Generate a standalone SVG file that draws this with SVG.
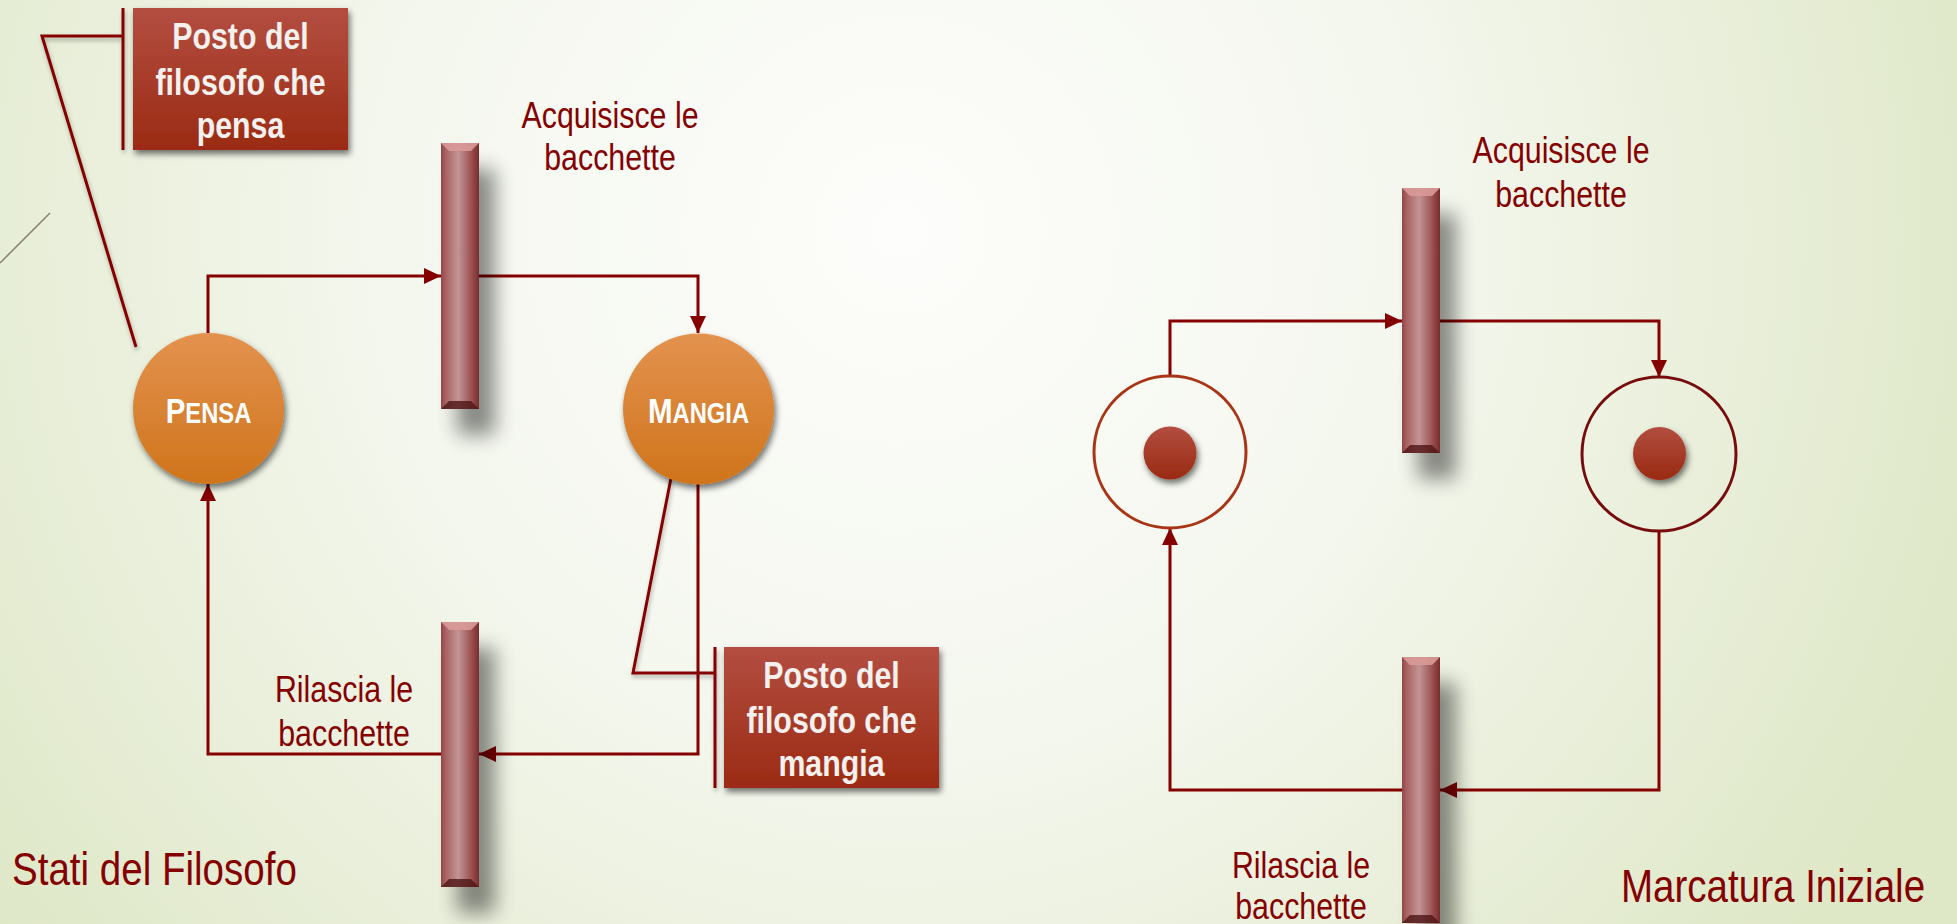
<svg xmlns="http://www.w3.org/2000/svg" width="1957" height="924" viewBox="0 0 1957 924">
<defs>
<radialGradient id="bg" cx="900" cy="230" r="1150" gradientUnits="userSpaceOnUse">
<stop offset="0" stop-color="#fdfdfb"/>
<stop offset="0.45" stop-color="#f4f7ee"/>
<stop offset="1" stop-color="#dee7c6"/>
</radialGradient>
<linearGradient id="boxg" x1="0" y1="0" x2="0" y2="1">
<stop offset="0" stop-color="#b34e41"/>
<stop offset="1" stop-color="#9b2b14"/>
</linearGradient>
<linearGradient id="circg" x1="0" y1="0" x2="0" y2="1">
<stop offset="0" stop-color="#e3924f"/>
<stop offset="1" stop-color="#cf741b"/>
</linearGradient>
<linearGradient id="dotg" x1="0" y1="0" x2="0" y2="1">
<stop offset="0" stop-color="#b24e40"/>
<stop offset="1" stop-color="#9a2a12"/>
</linearGradient>
<linearGradient id="barg" x1="0" y1="0" x2="1" y2="0">
<stop offset="0" stop-color="#8f4646"/>
<stop offset="0.12" stop-color="#a86262"/>
<stop offset="0.45" stop-color="#c39494"/>
<stop offset="0.75" stop-color="#a25a5a"/>
<stop offset="1" stop-color="#7a2b2b"/>
</linearGradient>
<filter id="barsh" x="-100%" y="-20%" width="400%" height="160%">
<feGaussianBlur in="SourceAlpha" stdDeviation="10"/>
<feOffset dx="16" dy="26" result="b"/>
<feComponentTransfer><feFuncA type="linear" slope="0.45"/></feComponentTransfer>
<feMerge><feMergeNode/><feMergeNode in="SourceGraphic"/></feMerge>
</filter>
<filter id="sh" x="-20%" y="-20%" width="150%" height="150%">
<feDropShadow dx="2" dy="4" stdDeviation="3" flood-color="#000" flood-opacity="0.55"/>
</filter>
<filter id="lsh" x="-20%" y="-20%" width="150%" height="150%">
<feDropShadow dx="1" dy="3" stdDeviation="2" flood-color="#000" flood-opacity="0.3"/>
</filter>
<marker id="arr" markerWidth="17" markerHeight="16" refX="17" refY="8" orient="auto" markerUnits="userSpaceOnUse">
<path d="M0,0 L17,8 L0,16 z" fill="#850000"/>
</marker>
<style>
.lbl{font-family:"Liberation Sans",Arial,sans-serif;font-size:37px;fill:#850000;text-anchor:middle}
.ttl{font-family:"Liberation Sans",Arial,sans-serif;font-size:47px;fill:#850000}
.btx{font-family:"Liberation Sans",Arial,sans-serif;font-size:37px;font-weight:bold;fill:#f3f0ee;text-anchor:middle}
.ctx{font-family:"Liberation Sans",Arial,sans-serif;font-size:36px;font-weight:bold;fill:#ffffff;text-anchor:middle}
.sc{font-size:29px}
.con{fill:none;stroke:#850000;stroke-width:3;marker-end:url(#arr)}
.cal{fill:none;stroke:#850000;stroke-width:3}
.box{fill:url(#boxg)}
.bar{fill:url(#barg)}
.bvt{fill:#d99a98;opacity:0.9}
.bvb{fill:#4e1515;opacity:0.8}
</style>
</defs>
<rect x="0" y="0" width="1957" height="924" fill="url(#bg)"/>
<line x1="0" y1="263" x2="50" y2="213" stroke="#8a8070" stroke-width="1.5"/>

<g id="connectors">
<path class="con" d="M208,333 V276 H441"/>
<path class="con" d="M479,276 H698 V333"/>
<path class="con" d="M698,484 V754 H479"/>
<path class="con" d="M441,754 H208 V484"/>
<path class="con" d="M1170,375 V321 H1402"/>
<path class="con" d="M1440,321 H1659 V377"/>
<path class="con" d="M1659,531 V790 H1440"/>
<path class="con" d="M1402,790 H1170 V528"/>
</g>

<g id="callout-pensa" filter="url(#lsh)">
<polyline class="cal" points="123,36 42,36 136,347"/>
<line class="cal" x1="123" y1="8" x2="123" y2="150"/>
</g>
<g id="box-pensa">
<rect class="box" x="133" y="8" width="215" height="142" filter="url(#sh)"/>
<text class="btx" transform="matrix(0.82 0 0 1 240.5 0)" x="0" y="49">Posto del</text>
<text class="btx" transform="matrix(0.82 0 0 1 240.5 0)" x="0" y="95">filosofo che</text>
<text class="btx" transform="matrix(0.82 0 0 1 240.5 0)" x="0" y="138">pensa</text>
</g>

<g id="callout-mangia" filter="url(#lsh)">
<polyline class="cal" points="715,673 633,673 671,478"/>
<line class="cal" x1="715" y1="647" x2="715" y2="788"/>
</g>
<g id="box-mangia">
<rect class="box" x="724" y="647" width="215" height="141" filter="url(#sh)"/>
<text class="btx" transform="matrix(0.82 0 0 1 831.5 0)" x="0" y="688">Posto del</text>
<text class="btx" transform="matrix(0.82 0 0 1 831.5 0)" x="0" y="733">filosofo che</text>
<text class="btx" transform="matrix(0.82 0 0 1 831.5 0)" x="0" y="776">mangia</text>
</g>

<g id="place-pensa">
<circle cx="208.5" cy="408.5" r="75.5" fill="url(#circg)" filter="url(#sh)"/>
<text class="ctx" transform="matrix(0.82 0 0 1 208.5 0)" x="0" y="423">P<tspan class="sc">ENSA</tspan></text>
</g>
<g id="place-mangia">
<circle cx="698.5" cy="409" r="75.5" fill="url(#circg)" filter="url(#sh)"/>
<text class="ctx" transform="matrix(0.82 0 0 1 698.5 0)" x="0" y="423">M<tspan class="sc">ANGIA</tspan></text>
</g>

<g id="trans-acquisisce-1">
<g filter="url(#barsh)">
<rect class="bar" x="441" y="143" width="38" height="266"/>
</g>
<polygon class="bvt" points="441,143 479,143 471,151 449,151"/>
<polygon class="bvb" points="441,409 479,409 471,401 449,401"/>
<text class="lbl" transform="matrix(0.82 0 0 1 610 0)" x="0" y="128">Acquisisce le</text>
<text class="lbl" transform="matrix(0.82 0 0 1 610 0)" x="0" y="170">bacchette</text>
</g>
<g id="trans-rilascia-1">
<g filter="url(#barsh)">
<rect class="bar" x="441" y="622" width="38" height="265"/>
</g>
<polygon class="bvt" points="441,622 479,622 471,630 449,630"/>
<polygon class="bvb" points="441,887 479,887 471,879 449,879"/>
<text class="lbl" transform="matrix(0.82 0 0 1 344 0)" x="0" y="702">Rilascia le</text>
<text class="lbl" transform="matrix(0.82 0 0 1 344 0)" x="0" y="746">bacchette</text>
</g>

<g id="place-left-marked">
<circle cx="1170" cy="452" r="76" fill="none" stroke="#a83516" stroke-width="3"/>
<circle cx="1170" cy="453" r="26.5" fill="url(#dotg)" filter="url(#sh)"/>
</g>
<g id="place-right-marked">
<circle cx="1659" cy="454" r="77" fill="none" stroke="#760c0c" stroke-width="3"/>
<circle cx="1659.5" cy="453.5" r="26.5" fill="url(#dotg)" filter="url(#sh)"/>
</g>

<g id="trans-acquisisce-2">
<g filter="url(#barsh)">
<rect class="bar" x="1402" y="188" width="38" height="265"/>
</g>
<polygon class="bvt" points="1402,188 1440,188 1432,196 1410,196"/>
<polygon class="bvb" points="1402,453 1440,453 1432,445 1410,445"/>
<text class="lbl" transform="matrix(0.82 0 0 1 1561 0)" x="0" y="163">Acquisisce le</text>
<text class="lbl" transform="matrix(0.82 0 0 1 1561 0)" x="0" y="207">bacchette</text>
</g>
<g id="trans-rilascia-2">
<g filter="url(#barsh)">
<rect class="bar" x="1402" y="657" width="38" height="266"/>
</g>
<polygon class="bvt" points="1402,657 1440,657 1432,665 1410,665"/>
<polygon class="bvb" points="1402,923 1440,923 1432,915 1410,915"/>
<text class="lbl" transform="matrix(0.82 0 0 1 1301 0)" x="0" y="878">Rilascia le</text>
<text class="lbl" transform="matrix(0.82 0 0 1 1301 0)" x="0" y="919">bacchette</text>
</g>

<text class="ttl" transform="matrix(0.82 0 0 1 12 0)" x="0" y="885">Stati del Filosofo</text>
<text class="ttl" transform="matrix(0.82 0 0 1 1621 0)" x="0" y="902">Marcatura Iniziale</text>
</svg>
